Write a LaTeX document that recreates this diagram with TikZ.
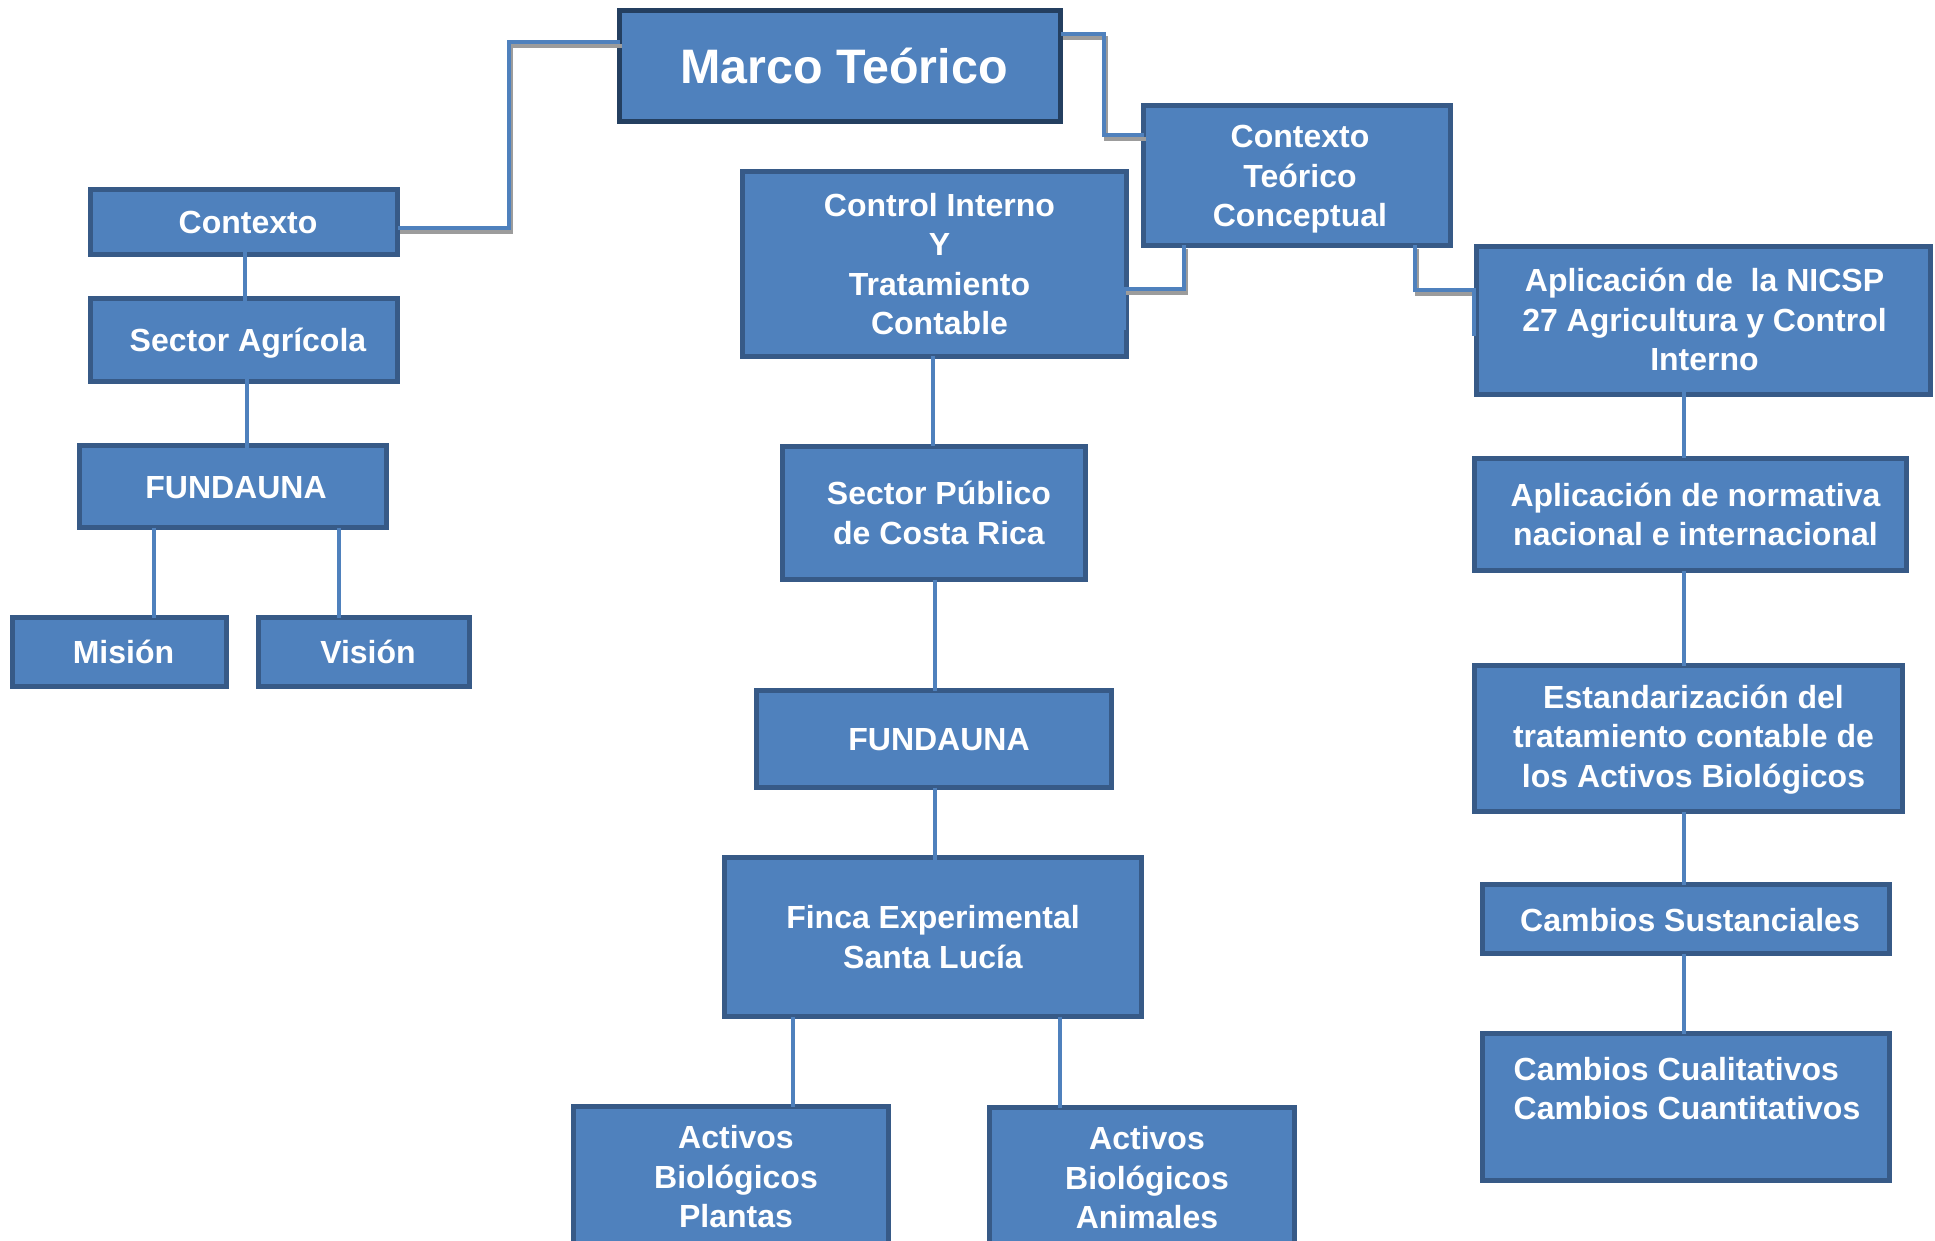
\documentclass[tikz,border=0pt]{standalone}
\usepackage{fontspec}
\setmainfont{Liberation Sans}
\usetikzlibrary{calc}
\definecolor{boxfill}{HTML}{4F81BD}
\definecolor{boxdraw}{HTML}{375A87}
\definecolor{topdraw}{HTML}{243F60}
\definecolor{linkc}{HTML}{4F81BD}
\definecolor{shadowc}{HTML}{9C9C9C}
% [box options]{name}{x1}{y1}{x2}{y2}{dx}{dy}{text}
\newcommand\mkbox[9][]{%
  \node[box,#1,minimum width={(#5-#3-5)*0.5pt},minimum height={(#6-#4-5)*0.5pt}] (#2) at ({(#3+#5)/2},{(#4+#6)/2}) {};
  \node[txt,#1,draw=none,fill=none,minimum width=0pt,minimum height=0pt,line width=0pt] (#2-t) at ($(#2.center)+(#7,#8)$) {#9};}
\begin{document}
\begin{tikzpicture}[x=0.5pt,y=-0.5pt,
  box/.style={rectangle,fill=boxfill,draw=boxdraw,line width=2.5pt,inner sep=0pt,outer sep=0pt},
  txt/.style={text=white,inner sep=0pt,align=center,font=\fontsize{16}{19.75}\selectfont\bfseries},
  topbox/.style={draw=topdraw,line width=2.8pt,font=\fontsize{24.2}{28}\selectfont\bfseries},
  link/.style={draw=linkc,line width=2.3pt},
  shad/.style={draw=shadowc,line width=2.3pt,transform canvas={xshift=1pt,yshift=-2pt}}]
\useasboundingbox (0,0) rectangle (1935,1241);
\fill[white] (0,0) rectangle (1935,1241);

% boxes and their texts
\mkbox[topbox]{marco}{617}{8}{1063}{124}{4}{0}{Marco Teórico}
\mkbox{contexto}{88}{187}{400}{257}{4}{0}{Contexto}
\mkbox{sector}{88}{296}{400}{384}{4}{3}{Sector Agrícola}
\mkbox{fund1}{77}{443}{389}{530}{3}{1}{FUNDAUNA}
\mkbox{mision}{10}{615}{229}{689}{4}{0}{Misión}
\mkbox{vision}{256}{615}{472}{689}{4}{0}{Visión}
\mkbox{ci}{740}{169}{1129}{359}{5}{0}{Control Interno\\Y\\Tratamiento\\Contable}
\mkbox{sp}{780}{444}{1088}{582}{5}{0}{Sector Público\\de Costa Rica}
\mkbox{fund2}{754}{688}{1114}{790}{5}{1}{FUNDAUNA}
\mkbox{finca}{722}{855}{1144}{1019}{0}{0}{Finca Experimental\\Santa Lucía}
\mkbox{plantas}{571}{1104}{891}{1248}{5}{1}{Activos\\Biológicos\\Plantas}
\mkbox{animales}{987}{1105}{1297}{1249}{5}{1}{Activos\\Biológicos\\Animales}
\mkbox{ctc}{1141}{103}{1453}{248}{3}{4}{Contexto\\Teórico\\Conceptual}
\mkbox{nicsp}{1474}{244}{1933}{397}{1}{-1}{Aplicación de~ la NICSP\\27 Agricultura y Control\\Interno}
\mkbox{norm}{1472}{456}{1909}{573}{5}{0}{Aplicación de normativa\\nacional e internacional}
\mkbox{estd}{1472}{663}{1905}{814}{5}{1}{Estandarización del\\tratamiento contable de\\los Activos Biológicos}
\mkbox{cs}{1480}{882}{1892}{956}{4}{1}{Cambios Sustanciales}
\mkbox{cc}{1480}{1031}{1892}{1183}{1}{-15}{\begin{tabular}{@{}l@{}}Cambios Cualitativos\\[-0.2pt]Cambios Cuantitativos\end{tabular}}

% helper coordinates
\coordinate (a1) at (509,42);  \coordinate (a2) at (509,228);
\coordinate (b1) at (1104,34); \coordinate (b2) at (1104,135);
\coordinate (c1) at (1184,289); \coordinate (c2) at (1124,289); \coordinate (c3) at (1124,330);
\coordinate (d1) at (1415,290); \coordinate (d2) at (1474,290); \coordinate (d3) at (1474,336);
\coordinate (x245) at (245,0); \coordinate (x247) at (247,0);
\coordinate (x154) at (154,0); \coordinate (x339) at (339,0);
\coordinate (x933) at (933,0); \coordinate (x935) at (935,0);
\coordinate (x793) at (793,0); \coordinate (x1060) at (1060,0);
\coordinate (x1684) at (1684,0);

% elbow connectors with shadow
\draw[shad] (marco.west |- a1) -- (a1) -- (a2) -- (contexto.east |- a2);
\draw[link] (marco.west |- a1) -- (a1) -- (a2) -- (contexto.east |- a2);
\draw[shad] (marco.east |- b1) -- (b1) -- (b2) -- (ctc.west |- b2);
\draw[link] (marco.east |- b1) -- (b1) -- (b2) -- (ctc.west |- b2);
\draw[shad] (ctc.south -| c1) -- (c1) -- (c2);
\draw[link] (ctc.south -| c1) -- (c1) -- (c2) -- (c3);
\draw[shad] (ctc.south -| d1) -- (d1) -- (d2);
\draw[link] (ctc.south -| d1) -- (d1) -- (d2) -- (d3);

% straight connectors
\draw[link,shorten <=-3.5pt,shorten >=-12.5pt] (contexto.south -| x245) -- (sector.north -| x245);
\draw[link,shorten <=-3.5pt,shorten >=-2.5pt] (sector.south -| x247) -- (fund1.north -| x247);
\draw[link] (fund1.south -| x154) -- (mision.north -| x154);
\draw[link] (fund1.south -| x339) -- (vision.north -| x339);
\draw[link] (ci.south -| x933) -- (sp.north -| x933);
\draw[link] (sp.south -| x935) -- (fund2.north -| x935);
\draw[link,shorten >=-15pt] (fund2.south -| x935) -- (finca.north -| x935);
\draw[link] (finca.south -| x793) -- (plantas.north -| x793);
\draw[link] (finca.south -| x1060) -- (animales.north -| x1060);
\draw[link,shorten <=-11pt] (nicsp.south -| x1684) -- (norm.north -| x1684);
\draw[link] (norm.south -| x1684) -- (estd.north -| x1684);
\draw[link] (estd.south -| x1684) -- (cs.north -| x1684);
\draw[link] (cs.south -| x1684) -- (cc.north -| x1684);
\end{tikzpicture}
\end{document}
